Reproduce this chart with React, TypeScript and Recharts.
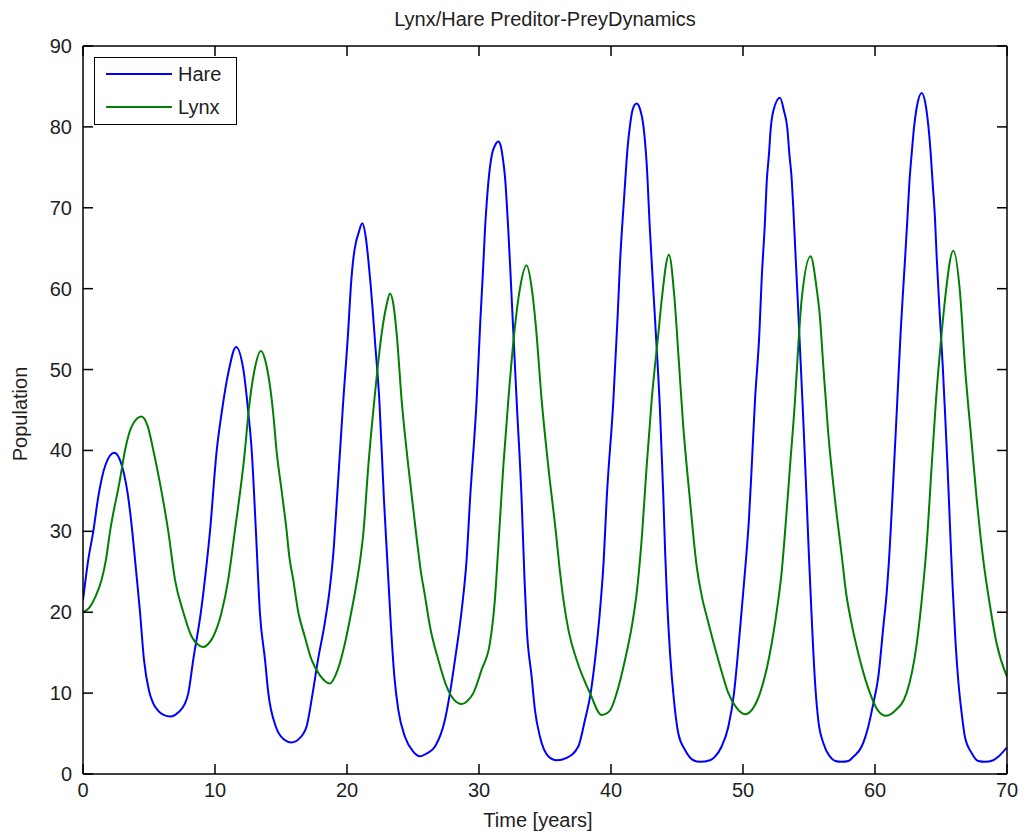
import React from "react"
import {
  LineChart,
  Line,
  XAxis,
  YAxis,
  Legend
} from "recharts"

const FONT = "'Liberation Sans', Arial, Helvetica, sans-serif"
const TEXT = "#1e1e1e"

const xTicks = [0, 10, 20, 30, 40, 50, 60, 70]
const yTicks = [0, 10, 20, 30, 40, 50, 60, 70, 80, 90]

// hare population (one row per stretch of the curve)
const hareTime = [
  0, 0.4, 0.78, 1.16, 1.7, 2.37, 3.0, 3.4, 3.7, 4.0, 4.32, 4.62, 5.0, 5.3, 5.7, 6.1, 6.64,
  7.2, 7.72, 7.98, 8.35, 8.93, 9.3, 9.62, 10.13, 10.5, 11.06, 11.59, 12.15, 12.53,
  12.78, 13.1, 13.4, 13.79, 14.04, 14.6, 15.2, 15.8, 16.4, 16.94, 17.4, 17.8, 18.3,
  18.7, 19.0, 19.2, 19.72, 20.1, 20.28, 20.48, 20.66, 20.86, 21.16, 21.41, 21.62,
  21.79, 21.94, 22.12, 22.45, 22.8, 23.05, 23.33, 23.59, 23.89, 24.39, 25.0, 25.53,
  26.1, 26.67, 27.42, 27.8, 28.18, 28.69, 29.06, 29.32, 29.82, 30.1, 30.33, 30.45,
  30.58, 30.76, 31.01, 31.21, 31.46, 31.64, 31.79, 31.97, 32.22, 32.35, 32.5, 32.85,
  33.23, 33.45, 33.61, 33.99, 34.24, 34.62, 35.25, 35.89, 36.64, 37.52, 38.03, 38.46,
  38.79, 39.17, 39.45, 39.67, 40.18, 40.5, 40.68, 41.0, 41.26, 41.44, 41.65, 41.94, 42.2, 42.45,
  42.7, 42.95, 43.2, 43.45, 43.71, 43.96, 44.1, 44.25, 44.47, 44.77, 45.1, 45.6, 46.24,
  46.74, 47.5, 47.88, 48.38, 48.89, 49.32, 49.57, 49.9, 50.2, 50.45, 50.66, 50.91,
  51.24, 51.41, 51.67, 51.79, 51.97, 52.1, 52.3, 52.8, 53.1, 53.36, 53.51, 53.69,
  53.81, 53.94, 54.15, 54.32, 54.52, 54.64, 54.82, 54.98, 55.2, 55.33, 55.45, 55.7,
  56.09, 56.59, 57.0, 57.47, 57.98, 58.36, 58.99, 59.49, 59.87, 60.25, 60.63, 60.88,
  61.1, 61.25, 61.44, 61.69, 61.94, 62.1, 62.27, 62.45, 62.6, 62.78, 62.96, 63.16,
  63.54, 63.87, 64.05, 64.22, 64.37, 64.55, 64.67, 64.9, 65.13, 65.31, 65.48, 65.61,
  65.76, 65.9, 66.06, 66.31, 66.56, 66.81, 67.32, 67.83, 68.33, 68.96, 69.34, 70
]
const harePop = [
  21.5, 26.5, 30, 34.3, 38.2, 39.7, 37.8, 34.5, 30.5, 25.5, 20, 14.1, 10.3, 8.8, 7.8, 7.3, 7.1,
  7.6, 8.7, 10, 14.1, 20, 25, 30, 40, 44.6, 50, 52.8, 50, 44.6,
  40, 30, 20, 14.1, 10, 5.9, 4.3, 3.9, 4.4, 5.9, 10, 14.1, 18.5,
  23, 28, 33, 46.2, 55, 60, 63.7, 65.6, 66.8, 68.1, 66.5, 63.5,
  60.5, 57.5, 53.5, 46.2, 33.9, 26.5, 18.2, 12, 7.9, 4.6, 2.8, 2.2,
  2.6, 3.4, 6.7, 10, 14.1, 20.3, 26.5, 33.9, 46.2, 56, 63.1, 67.2,
  70.5, 74, 76.8, 77.7, 78.2, 77.7, 76.3, 73.8, 67.2, 63.1, 58, 46.2,
  33.9, 24, 18.2, 12, 7.9, 4.6, 2.2, 1.7, 2.0, 3.4, 6.7, 10,
  14.1, 20.3, 26.5, 33.9, 46.2, 56.5, 63.1, 71.4, 77.5, 80.2, 82.2, 82.9, 82.2, 80.2,
  75.5, 67.2, 60, 53, 45, 34.5, 27.5, 21.5, 15, 9.1, 5, 3, 1.7,
  1.5, 1.7, 2.14, 3.4, 5.85, 10, 14.1, 20.3, 26, 31.5, 38, 46.2,
  54.5, 61, 68.5, 73, 76.7, 79.8, 82, 83.6, 82, 79.8, 76.7, 73.5,
  70, 65.5, 58.5, 52.5, 45.5, 41, 34, 27.5, 19.5, 15, 11.5, 6.7,
  3.8, 2.14, 1.6, 1.5, 1.6, 2.14, 3.4, 5.85, 8.7, 12, 18.2, 22.3,
  27.5, 32, 38, 46.2, 54.5, 59, 63.5, 68.5, 73, 76.7, 80, 82.4,
  84.2, 82.4, 80, 76.7, 73, 68.5, 64, 57, 50.5, 44.5, 38.5, 33.5,
  27.5, 22.5, 17.5, 11.5, 7.6, 4.6, 2.6, 1.6, 1.5, 1.7, 2.14, 3.3
]

// lynx population
const lynxTime = [
  0, 0.5, 0.91, 1.41, 1.74, 2.05, 2.8, 3.18, 3.7, 4.42, 4.9, 5.33, 5.78, 6.46,
  6.97, 7.6, 8.23, 8.7, 9.12, 9.5, 9.87, 10.5, 11.0, 11.5, 12.27, 12.53, 13.0, 13.48,
  13.9, 14.41, 14.66, 15.05, 15.43, 15.62, 15.93, 16.31, 16.8, 17.32, 17.95, 18.7,
  19.3, 19.85, 20.36, 20.61, 21.0, 21.24, 21.61, 22.07, 22.63, 23.0, 23.26, 23.5,
  23.76, 24.14, 24.65, 25.23, 25.6, 25.91, 26.29, 26.92, 27.55, 28.1, 28.69, 29.1,
  29.57, 30.2, 30.83, 31.2, 31.46, 31.84, 32.22, 32.67, 33.1, 33.6, 34.0, 34.3,
  34.75, 35.25, 35.83, 36.1, 36.4, 36.8, 37.4, 38.41, 39.29, 39.9, 40.43,
  41.06, 41.57, 41.94, 42.3, 42.7, 43.08, 43.59, 43.84, 44.39, 44.8, 45.1, 45.45,
  45.98, 46.49, 46.9, 47.25, 48.13, 48.89, 49.5, 50.15, 50.7, 51.29, 52.17, 52.67,
  52.9, 53.18, 53.56, 53.94, 54.19, 54.44, 55.12, 55.58, 55.8, 56.09, 56.46, 56.97,
  57.48, 57.8, 58.2, 58.86, 59.62, 60.2, 60.83, 61.5, 62.39, 63.16, 63.54, 63.9,
  64.29, 64.62, 65.05, 65.3, 65.93, 66.44, 66.82, 67.32, 67.71, 68.2, 68.71, 69.22, 70
]
const lynxPop = [
  20, 20.6, 21.8, 24, 26.5, 30, 36.4, 40, 43, 44.2, 43, 40, 36.4, 30,
  24, 20, 17, 16, 15.7, 16.1, 17, 20, 24, 30, 40, 44.6, 50, 52.3,
  50.5, 44.6, 40, 35, 30, 27, 24, 20, 17, 14.1, 12.2, 11.2,
  12.9, 16.2, 20.3, 22.5, 26.5, 29.8, 38, 46.2, 54.5, 58, 59.4, 58.2,
  54.5, 46.2, 38, 29.8, 25, 22, 18.2, 14.1, 10.8, 9.2, 8.65, 9.0,
  10, 12.9, 16.2, 21.5, 28, 38, 46.2, 54.5, 60, 62.9, 60.0, 55.5,
  46.2, 38, 29.8, 25.5, 21.5, 17.6, 14.1, 10, 7.3, 7.8, 10,
  14.1, 18.2, 22.3, 28.5, 38, 46.2, 54.5, 58.6, 64.2, 59, 52, 43.5,
  33.9, 25.7, 21.8, 19.5, 14.1, 10, 8.2, 7.4, 8.0, 10, 16.1, 21.5,
  24.5, 29.8, 38, 46.2, 53, 58.6, 64.0, 60, 57, 50.3, 42.1, 33.9,
  27, 22.5, 18.8, 14.1, 10, 7.9, 7.2, 7.8, 10, 16.1, 21.5, 28,
  38, 46.2, 54.5, 58.6, 64.7, 59.5, 50.3, 41, 33.9, 26.5, 20.8, 16.1, 12
]

const hareData = hareTime.map((t, i) => ({ t, p: harePop[i] }))
const lynxData = lynxTime.map((t, i) => ({ t, p: lynxPop[i] }))

function BottomTick(props: any) {
  const { x, y, payload } = props
  return (
    <g>
      <line x1={x} y1={y} x2={x} y2={y - 10} stroke="#000" strokeWidth={1.5} />
      <text x={x} y={y + 23} textAnchor="middle" fontSize={20} fontFamily={FONT} fill={TEXT}>
        {payload.value}
      </text>
    </g>
  )
}

function LeftTick(props: any) {
  const { x, y, payload } = props
  return (
    <g>
      <line x1={x} y1={y} x2={x + 10} y2={y} stroke="#000" strokeWidth={1.5} />
      <text x={x - 11} y={y + 7} textAnchor="end" fontSize={20} fontFamily={FONT} fill={TEXT}>
        {payload.value}
      </text>
    </g>
  )
}

function TopTick(props: any) {
  const { x, y } = props
  return <line x1={x} y1={y} x2={x} y2={y + 10} stroke="#000" strokeWidth={1.5} />
}

function RightTick(props: any) {
  const { x, y } = props
  return <line x1={x} y1={y} x2={x - 10} y2={y} stroke="#000" strokeWidth={1.5} />
}

function XTitle(props: any) {
  const { viewBox } = props
  return (
    <text x={viewBox.x + viewBox.width / 2 - 7} y={viewBox.y + 53} textAnchor="middle"
      fontSize={20} fontFamily={FONT} fill={TEXT}>
      Time [years]
    </text>
  )
}

function YTitle(props: any) {
  const { viewBox } = props
  const cx = viewBox.x - 16
  const cy = viewBox.y + viewBox.height / 2 + 4
  return (
    <text x={cx} y={cy} transform={`rotate(-90, ${cx}, ${cy})`} textAnchor="middle"
      fontSize={20} fontFamily={FONT} fill={TEXT}>
      Population
    </text>
  )
}

function LegendBox(props: any) {
  const { payload } = props
  return (
    <div
      style={{
        width: 143,
        height: 68,
        border: "1.5px solid #000",
        background: "#fff",
        boxSizing: "border-box",
        position: "relative",
        fontFamily: FONT,
        fontSize: 20,
        color: TEXT
      }}
    >
      {(payload || []).map((e: any, i: number) => (
        <div
          key={e.value}
          style={{
            position: "absolute",
            left: 11,
            top: 5 + i * 33,
            height: 22,
            display: "flex",
            alignItems: "center",
            whiteSpace: "nowrap"
          }}
        >
          <span style={{ display: "inline-block", width: 66, borderTop: `2px solid ${e.color}` }} />
          <span style={{ marginLeft: 6 }}>{e.value}</span>
        </div>
      ))}
    </div>
  )
}

export default function App() {
  return (
    <div style={{ position: "absolute", left: 0, top: 0, width: 1020, height: 837, background: "#fff" }}>
      <div
        style={{
          position: "absolute",
          left: 83,
          width: 924,
          top: 8,
          textAlign: "center",
          fontFamily: FONT,
          fontSize: 20,
          lineHeight: "23px",
          color: TEXT,
          zIndex: 1
        }}
      >
        Lynx/Hare Preditor-PreyDynamics
      </div>
      <LineChart
        width={1020}
        height={837}
        margin={{ top: 45, right: 12, bottom: 33, left: 43 }}
      >
        <XAxis
          type="number"
          dataKey="t"
          domain={[0, 70]}
          ticks={xTicks}
          allowDataOverflow
          height={30}
          tickSize={0}
          tickMargin={0}
          tickLine={false}
          axisLine={{ stroke: "#000", strokeWidth: 1.5 }}
          tick={(p: any) => <BottomTick {...p} />}
          label={(p: any) => <XTitle {...p} />}
        />
        <XAxis
          xAxisId="top"
          orientation="top"
          type="number"
          dataKey="t"
          domain={[0, 70]}
          ticks={xTicks}
          allowDataOverflow
          height={1}
          tickSize={0}
          tickMargin={0}
          tickLine={false}
          axisLine={{ stroke: "#000", strokeWidth: 1.5 }}
          tick={(p: any) => <TopTick {...p} />}
        />
        <YAxis
          type="number"
          domain={[0, 90]}
          ticks={yTicks}
          allowDataOverflow
          width={40}
          tickSize={0}
          tickMargin={0}
          tickLine={false}
          axisLine={{ stroke: "#000", strokeWidth: 1.5 }}
          tick={(p: any) => <LeftTick {...p} />}
          label={(p: any) => <YTitle {...p} />}
        />
        <YAxis
          yAxisId="right"
          orientation="right"
          type="number"
          domain={[0, 90]}
          ticks={yTicks}
          allowDataOverflow
          width={1}
          tickSize={0}
          tickMargin={0}
          tickLine={false}
          axisLine={{ stroke: "#000", strokeWidth: 1.5 }}
          tick={(p: any) => <RightTick {...p} />}
        />
        <Legend
          layout="horizontal"
          verticalAlign="middle"
          align="center"
          wrapperStyle={{ left: 94, top: 57, width: 143, height: 68 }}
          content={(p: any) => <LegendBox {...p} />}
        />
        <Line
          data={hareData}
          dataKey="p"
          name="Hare"
          type="monotone"
          stroke="#0000ff"
          strokeWidth={2}
          dot={false}
          activeDot={false}
          isAnimationActive={false}
        />
        <Line
          data={lynxData}
          dataKey="p"
          name="Lynx"
          xAxisId="top"
          yAxisId="right"
          type="monotone"
          stroke="#008000"
          strokeWidth={2}
          dot={false}
          activeDot={false}
          isAnimationActive={false}
        />
      </LineChart>
    </div>
  )
}
